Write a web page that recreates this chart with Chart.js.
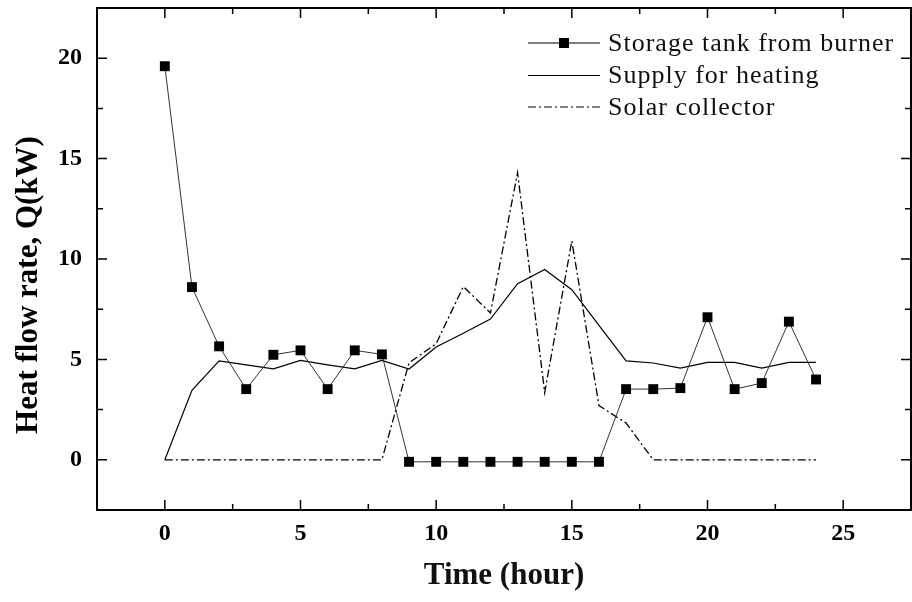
<!DOCTYPE html>
<html>
<head>
<meta charset="utf-8">
<script src="https://cdn.jsdelivr.net/npm/chart.js@4.4.1/dist/chart.umd.min.js"></script>
<style>
  html, body { margin: 0; padding: 0; background: #fff; overflow: hidden; }
  canvas { display: block; }
</style>
</head>
<body>
<canvas id="heatChart" width="912" height="602"></canvas>
<script>
    // hours of the day
    const hours = [0, 1, 2, 3, 4, 5, 6, 7, 8, 9, 10, 11, 12, 13, 14, 15, 16, 17, 18, 19, 20, 21, 22, 23, 24];
    const storageFromBurner = [19.6, 8.6, 5.65, 3.52, 5.23, 5.45, 3.52, 5.45, 5.25, -0.1, -0.1, -0.1, -0.1, -0.1, -0.1, -0.1, -0.1, 3.52, 3.52, 3.57, 7.1, 3.52, 3.82, 6.88, 4.0];
    const supplyForHeating = [0, 3.46, 4.93, 4.73, 4.53, 4.95, 4.73, 4.53, 4.95, 4.52, 5.62, 6.3, 7.01, 8.77, 9.48, 8.47, 6.7, 4.93, 4.82, 4.57, 4.85, 4.85, 4.57, 4.85, 4.85];
    const solarCollector = [0, 0, 0, 0, 0, 0, 0, 0, 0, 4.83, 5.78, 8.63, 7.31, 14.3, 3.35, 10.9, 2.7, 1.83, 0, 0, 0, 0, 0, 0, 0];
    const seriesNames = ["Storage tank from burner", "Supply for heating", "Solar collector"];
    const xTicks = [0, 5, 10, 15, 20, 25];
    const yTicks = [0, 5, 10, 15, 20];

    const toPoints = (vals) => vals.map((v, i) => ({ x: hours[i], y: v }));
    const serif = "'Liberation Serif', 'Times New Roman', serif";
    const noPad = (s) => { s.paddingTop = 0; s.paddingBottom = 0; s.paddingLeft = 0; s.paddingRight = 0; };

    // frame, inward ticks, legend and y title
    const framePlugin = {
        id: "frame",
        afterDatasetsDraw(chart) {
            const { ctx, chartArea: a, scales } = chart;
            const xs = scales.x, ys = scales.y;
            ctx.save();
            ctx.strokeStyle = "#000";
            ctx.lineWidth = 1.5;
            for (let v = -2.5; v <= 27.5; v += 2.5) {
                const px = xs.getPixelForValue(v);
                if (px <= a.left + 1 || px >= a.right - 1) continue;
                const len = v % 5 === 0 ? 10 : 6;
                ctx.beginPath();
                ctx.moveTo(px, a.bottom); ctx.lineTo(px, a.bottom - len);
                ctx.moveTo(px, a.top); ctx.lineTo(px, a.top + len);
                ctx.stroke();
            }
            for (let v = -2.5; v <= 22.5; v += 2.5) {
                const py = ys.getPixelForValue(v);
                if (py <= a.top + 1 || py >= a.bottom - 1) continue;
                const len = v % 5 === 0 ? 10 : 6;
                ctx.beginPath();
                ctx.moveTo(a.left, py); ctx.lineTo(a.left + len, py);
                ctx.moveTo(a.right, py); ctx.lineTo(a.right - len, py);
                ctx.stroke();
            }
            ctx.lineWidth = 2;
            ctx.strokeRect(a.left, a.top, a.right - a.left, a.bottom - a.top);
            ctx.restore();
        },
        afterDraw(chart) {
            const { ctx } = chart;
            ctx.save();
            // legend
            const rows = [43, 75.5, 107];
            chart.data.datasets.forEach((ds, i) => {
                const y = rows[i];
                ctx.strokeStyle = "#000";
                ctx.lineWidth = 1;
                ctx.setLineDash(ds.borderDash || []);
                ctx.beginPath();
                ctx.moveTo(528, y); ctx.lineTo(600, y);
                ctx.stroke();
                ctx.setLineDash([]);
                if (ds.pointRadius > 0) {
                    ctx.fillStyle = "#000";
                    ctx.fillRect(559, y - 5, 10, 10);
                }
                ctx.fillStyle = "#111";
                ctx.font = "26px " + serif;
                ctx.letterSpacing = "1px";
                ctx.textBaseline = "middle";
                ctx.textAlign = "left";
                ctx.fillText(ds.label, 608, y + 1);
            });
            // y axis title
            ctx.letterSpacing = "0px";
            ctx.translate(29, 285);
            ctx.rotate(-Math.PI / 2);
            ctx.font = "bold 31px " + serif;
            ctx.textAlign = "center";
            ctx.textBaseline = "middle";
            ctx.fillStyle = "#000";
            ctx.fillText("Heat flow rate, Q(kW)", 0, 0);
            ctx.restore();
        }
    };

    const heatCtx = document.getElementById("heatChart").getContext("2d");
    const heatChart = new Chart(heatCtx, {
        type: "line",
    data: {
    datasets: [
    {
        label: seriesNames[0],
    data: toPoints(storageFromBurner),
    borderColor: "#333",
    borderWidth: 1,
    pointStyle: "rect",
    pointRadius: 7,
    pointBorderWidth: 0,
    pointBackgroundColor: "#000",
    tension: 0,
            },
    {
        label: seriesNames[1],
    data: toPoints(supplyForHeating),
    borderColor: "#000",
    borderWidth: 1.2,
    pointRadius: 0,
    tension: 0,
            },
    {
        label: seriesNames[2],
    data: toPoints(solarCollector),
    borderColor: "#000",
    borderWidth: 1.3,
    borderDash: [8, 3, 2, 3],
    pointRadius: 0,
    tension: 0,
            },
    ],
        },
    options: {
        responsive: false,
    animation: false,
    layout: { autoPadding: false, padding: { top: 8, right: 1, left: 0, bottom: 0 } },
    plugins: { legend: { display: false }, tooltip: { enabled: false } },
    scales: {
        x: {
            type: "linear",
            min: -2.5,
            max: 27.5,
            afterBuildTicks: (s) => { s.ticks = xTicks.map((v) => ({ value: v })); },
            afterFit: (s) => { s.height = 92; noPad(s); },
            grid: { display: false, drawTicks: false },
            border: { display: false },
            ticks: { color: "#000", padding: 9, font: { family: serif, size: 24, weight: "bold" } },
            title: {
                display: true,
                text: "Time (hour)",
                color: "#111",
                padding: { top: 0, bottom: 7 },
                font: { family: serif, size: 31, weight: "bold" },
            },
        },
        y: {
            min: -2.5,
            max: 22.5,
            afterBuildTicks: (s) => { s.ticks = yTicks.map((v) => ({ value: v })); },
            afterFit: (s) => { s.width = 97; noPad(s); },
            grid: { display: false, drawTicks: false },
            border: { display: false },
            ticks: { color: "#000", padding: 15, font: { family: serif, size: 24, weight: "bold" } },
        },
        },
        },
    plugins: [framePlugin],
      });
</script>
</body>
</html>
